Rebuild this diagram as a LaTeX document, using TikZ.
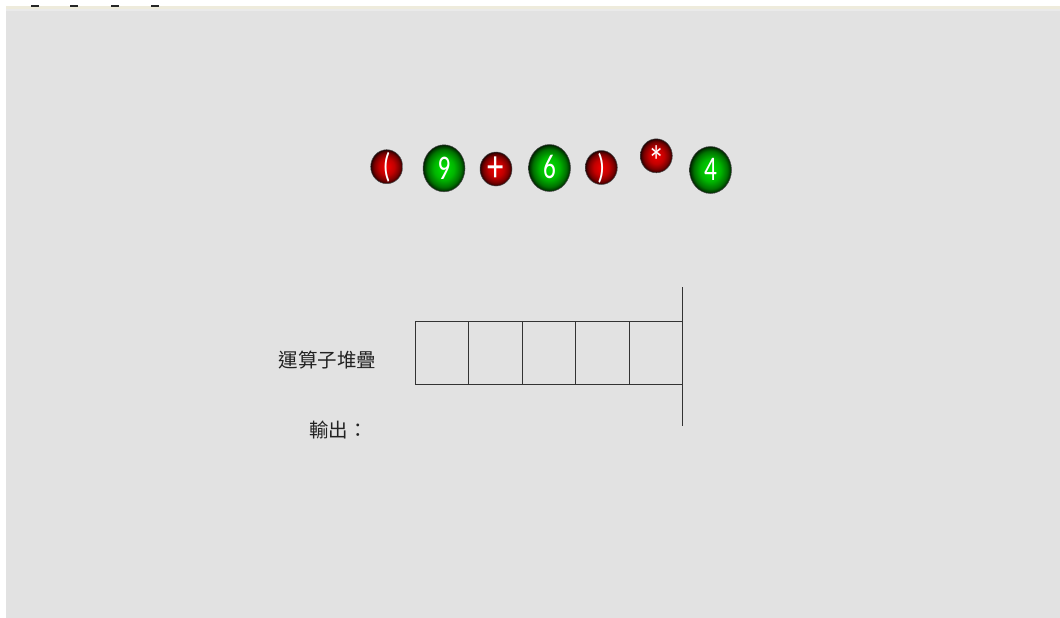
\documentclass[tikz,border=0pt]{standalone}
\usepackage{fontspec}
\usepackage{graphicx}
\usepackage{tikz}
\usepackage{xcolor}
\usetikzlibrary{positioning,shapes.geometric}
\newfontfamily\cjkfont{Noto Sans CJK TC}
\newfontfamily\ballfont{Carlito}
\definecolor{pgbg}{HTML}{E2E2E2}
\definecolor{pgstrip}{HTML}{EEEBDC}
\definecolor{pgstripb}{HTML}{EAEAEA}
\definecolor{pgink}{HTML}{222222}
\definecolor{pgline}{HTML}{333333}
\definecolor{ggreen}{HTML}{00E400}
\definecolor{gred}{HTML}{F20000}
\pgfdeclareradialshading{greenball}{\pgfpoint{0bp}{0bp}}{%
  color(0bp)=(ggreen); color(12bp)=(ggreen!80!black); color(20bp)=(ggreen!50!black);
  color(24bp)=(ggreen!22!black); color(25bp)=(black!88!ggreen); color(50bp)=(black!88!ggreen)}
\pgfdeclareradialshading{redball}{\pgfpoint{0bp}{0bp}}{%
  color(0bp)=(gred); color(12bp)=(gred!80!black); color(20bp)=(gred!50!black);
  color(24bp)=(gred!24!black); color(25bp)=(black!88!gred); color(50bp)=(black!88!gred)}
\newcommand{\balltext}[1]{\scalebox{0.84}[1.15]{#1}}
\newcommand{\opsign}[1]{\scalebox{1.3}{#1}}
\tikzset{
  pgball/.style={ellipse, inner sep=0pt, draw=black!70, line width=0.5pt, shade,
    text=white, font=\ballfont\fontsize{30}{30}\selectfont, text height=21.6pt, text depth=0pt},
  numball/.style={pgball, shading=greenball, minimum width=42pt, minimum height=47pt},
  opball/.style={pgball, shading=redball, minimum width=32pt, minimum height=34pt},
  stkcell/.style={draw=pgline, line width=1pt, minimum width=53.5pt, minimum height=62.6pt,
    inner sep=0pt, outer sep=0pt},
  stkwall/.style={draw=pgline, line width=1.2pt},
  cjklabel/.style={text=pgink, font=\cjkfont\fontsize{19.5}{22}\selectfont, inner sep=0pt}
}
\begin{document}
\begin{tikzpicture}[x=1pt, y=-1pt, node distance=0pt]
\useasboundingbox (0,0) rectangle (1060,618);
% window background
\fill[pgbg] (6,11) rectangle (1060,618);
\fill[pgstrip] (6,6) rectangle (1060,9);
\fill[pgstripb] (6,9) rectangle (1060,11);
\foreach \x in {31,70,111,151}
  \fill[black!85] (\x,5.2) rectangle ++(7.5,1.6);
% expression tokens
\node[opball] (lparen) at (386.7,166.7) {\balltext{(}};
\node[numball] (nine) at (444,168.3) {\balltext{9}};
\node[opball] (plus) at (496,169) {\raisebox{-2pt}{\smash{\opsign{\balltext{+}}}}};
\node[numball] (six) at (549.5,168) {\balltext{6}};
\node[opball] (rparen) at (601.3,167.5) {\balltext{)}};
\node[opball] (times) at (656.3,155.8) {\raisebox{-11pt}{\smash{\opsign{\balltext{*}}}}};
\node[numball] (four) at (710.5,170) {\balltext{4}};
% operator stack
\node[stkcell] (c1) at (441.75,353) {};
\node[stkcell, right=of c1] (c2) {};
\node[stkcell, right=of c2] (c3) {};
\node[stkcell, right=of c3] (c4) {};
\node[stkcell, right=of c4] (c5) {};
\coordinate (walltop) at ([yshift=34.6pt]c5.north east);
\coordinate (wallbot) at ([yshift=-41.6pt]c5.south east);
\draw[stkwall] (walltop) -- (wallbot);
\node[cjklabel] (stacklbl) at (327.5,360) {運算子堆疊};
\node[cjklabel] (outlbl) at (338.5,430) {輸出：};
\end{tikzpicture}
\end{document}
